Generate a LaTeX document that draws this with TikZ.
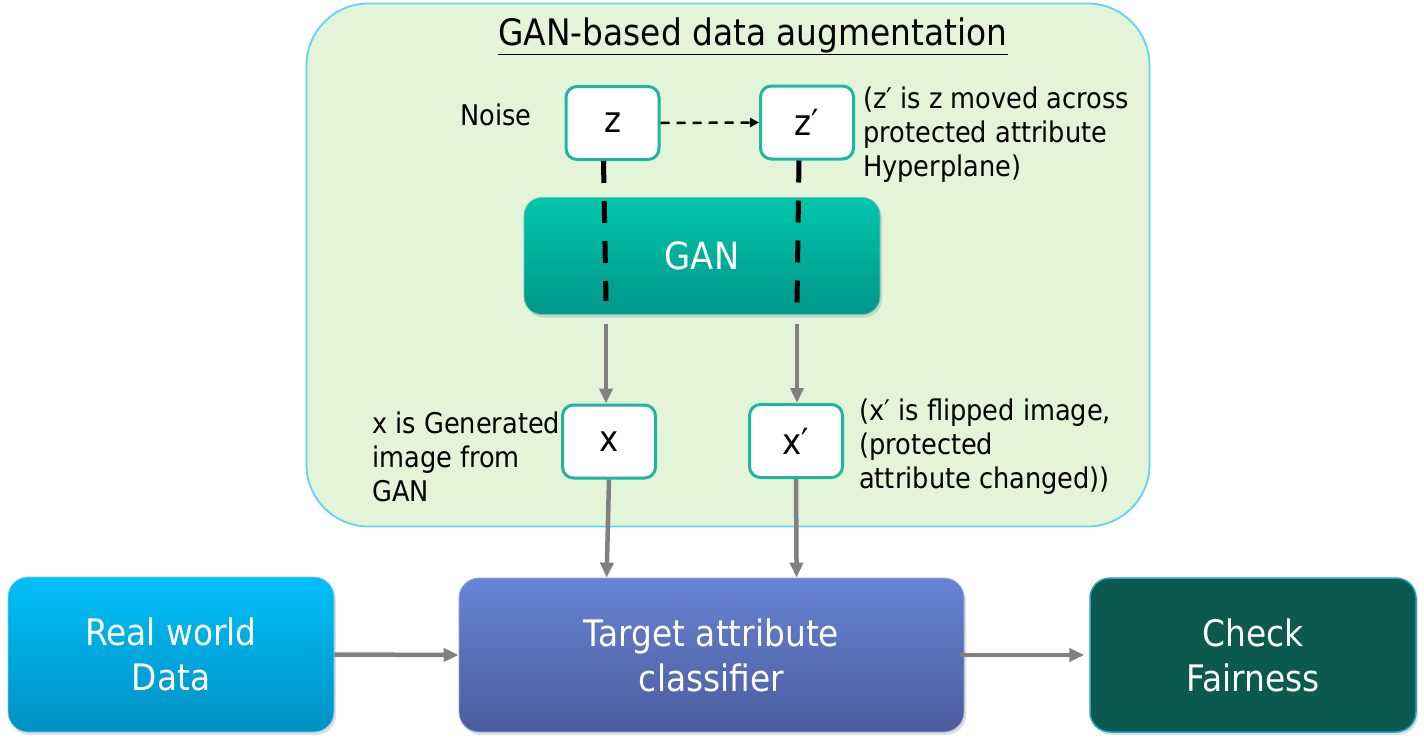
\documentclass[tikz,border=0pt]{standalone}
\usepackage{fontspec}
\setmainfont{DejaVu Sans}[FakeStretch=0.9]
\usetikzlibrary{arrows.meta,shadows,calc}
\definecolor{bgreen}{HTML}{E3F4D9}
\definecolor{bborder}{HTML}{5BD6F5}
\definecolor{tealb}{HTML}{1FB5A0}
\definecolor{gantop}{HTML}{00C6AB}
\definecolor{ganbot}{HTML}{00978A}
\definecolor{realtop}{HTML}{00BFFA}
\definecolor{realbot}{HTML}{0091C2}
\definecolor{clstop}{HTML}{6884D4}
\definecolor{clsbot}{HTML}{4A5C9E}
\definecolor{fairfill}{HTML}{0C5A4F}
\definecolor{fairborder}{HTML}{22A6C8}
\definecolor{arrgray}{HTML}{808080}
\tikzset{
  varbox/.style={draw=tealb, line width=3pt, fill=white, rounded corners=11pt,
    minimum width=93pt, minimum height=73pt, inner sep=0pt,
    font=\fontsize{36}{40}\selectfont},
  lbl/.style={font=\fontsize{28.5}{34}\selectfont, align=left, inner sep=0pt, anchor=west},
  bigbox/.style={rounded corners=20pt, align=center, text=white, inner sep=0pt,
    font=\fontsize{36.5}{45}\selectfont,
    drop shadow={shadow xshift=2pt, shadow yshift=-3pt, opacity=0.25}},
  blkdash/.style={black, line width=5pt, dash pattern=on 22pt off 18pt},
  grayarr/.style={arrgray, line width=4.5pt, -{Triangle[width=13pt,length=15pt]}},
}
\begin{document}
\begin{tikzpicture}[x=1pt,y=-1pt]
\useasboundingbox (0,0) rectangle (1424,744);
% augmentation frame
\node[draw=bborder, line width=1.8pt, fill=bgreen, rounded corners=62pt,
  minimum width=843pt, minimum height=523pt, inner sep=0pt] (frame) at (728,265) {};
\node[font=\fontsize{36.5}{40}\selectfont, inner sep=0pt] (title) at (753,36) {\underline{GAN-based data augmentation}};
% GAN box
\node[bigbox, shading=axis, top color=gantop, bottom color=ganbot, draw=gantop!80!black!60, line width=0.8pt,
  rounded corners=18pt, minimum width=356pt, minimum height=117pt, font=\fontsize{37.5}{45}\selectfont] (gan) at (702,256) {GAN};
% noise vectors
\node[varbox] (z) at (612.5,123) {z};
\node[varbox] (zp) at (807,122.5) {z′};
\node[font=\fontsize{28.5}{30}\selectfont, inner sep=0pt] (noise) at (496,115) {Noise};
\node[lbl] (zptext) at (863,135) {(z′ is z moved across\\protected attribute\\Hyperplane)};
\draw[black, line width=2.5pt, dash pattern=on 9pt off 7pt, -{Triangle[width=9pt,length=9pt]}] (z.east) -- (zp.west);
% images
\node[varbox] (x) at (609,441.5) {x};
\node[varbox] (xp) at (796,441) {x′};
\node[lbl] (xtext) at (372,457) {x is Generated\\image from\\GAN};
\node[lbl] (xptext) at (859,447) {(x′ is flipped image,\\(protected\\attribute changed))};
% dashed through GAN
\draw[blkdash] ($(z.south)+(-9,0)$) -- ($(gan.south)+(-96,-14)$);
\draw[blkdash] ($(zp.south)+(-8,0)$) -- ($(gan.south)+(95,-12)$);
% gray arrows GAN -> x
\draw[grayarr] ($(gan.south)+(-96,9)$) -- (x.north -| {$(gan.south)+(-96,0)$});
\draw[grayarr] ($(gan.south)+(95,9)$) -- (xp.north -| {$(gan.south)+(95,0)$});
% bottom row
\node[bigbox, shading=axis, top color=realtop, bottom color=realbot, draw=realtop!80!black!50, line width=0.8pt,
  minimum width=326pt, minimum height=155pt] (real) at (171,654.5) {Real world\\Data};
\node[bigbox, shading=axis, top color=clstop, bottom color=clsbot, draw=clstop!70, line width=0.8pt,
  minimum width=505pt, minimum height=154pt] (cls) at (711.5,655) {Target attribute\\classifier};
\node[bigbox, fill=fairfill, draw=fairborder, line width=1.5pt,
  minimum width=326pt, minimum height=154pt] (fair) at (1253,655) {Check\\Fairness};
\draw[grayarr] (x.south) -- ($(cls.north west)+(148,0)$);
\draw[grayarr] (xp.south) -- ($(cls.north west)+(338,0)$);
\draw[grayarr] (real.east) -- (cls.west);
\draw[grayarr] ($(cls.east)+(-4,0)$) -- ($(fair.west)+(-5,0)$);
\end{tikzpicture}
\end{document}
